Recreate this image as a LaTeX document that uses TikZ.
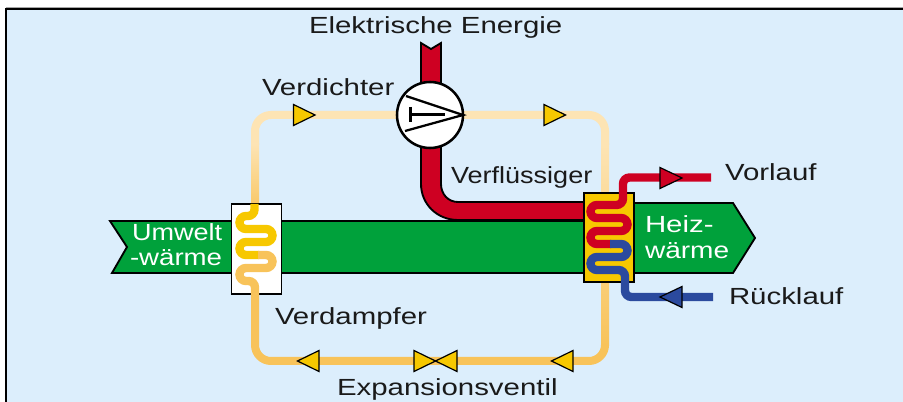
\documentclass[tikz,border=0pt]{standalone}
\usepackage{fontspec}
\newfontfamily\lab[FakeStretch=1.26]{Liberation Sans}
\definecolor{bgblue}{HTML}{DCEEFC}
\definecolor{pipelight}{HTML}{FDE4B4}
\definecolor{pipeor}{HTML}{F8C35A}
\definecolor{yel}{HTML}{F7C800}
\definecolor{rd}{HTML}{CE0022}
\definecolor{bl}{HTML}{2B4A9E}
\definecolor{grn}{HTML}{00A13B}
\definecolor{ink}{HTML}{1A1A1A}
\tikzset{
  pipe/.style={line width=6pt},
  thincoil/.style={line width=6.3pt,rounded corners=4.875pt},
  outl/.style={draw=black,line width=1.4pt,line join=miter},
  txt/.style={font=\lab\fontsize{17.5}{20}\selectfont,text=ink,anchor=base west,inner sep=0pt,outer sep=0pt},
  wtxt/.style={txt,text=white},
  exch/.style={outl,minimum width=37.5pt,inner sep=0pt},
}
% x y direction(1 right,-1 left) colour halfheight length
\newcommand{\flowtri}[6]{\begin{scope}[shift={(#1,#2)},xscale=#3]
  \draw[fill=#4,draw=black,line width=0.9pt,line join=miter] (0,-#5)--(#6,0)--(0,#5)--cycle;
\end{scope}}
\begin{document}
\begin{tikzpicture}[x=0.75pt,y=-0.75pt]
\useasboundingbox (0,0) rectangle (903,402);
\fill[white] (0,0) rectangle (903,402);
\fill[black!35] (6,7.5) rectangle (903,9);
\fill[bgblue] (6,9) rectangle (903,402);
\draw[black,line width=1.5pt] (6,402)--(6,9.5)--(903,9.5);
% refrigerant loop
\draw[pipe,pipelight,rounded corners=12pt] (255,145)--(255,115)--(605,115)--(605,145);
\shade[top color=pipelight,bottom color=pipeor!92!white] (251,144) rectangle (259,206);
\shade[top color=pipelight,bottom color=pipeor] (601,144) rectangle (609,346);
\draw[pipe,pipeor,rounded corners=12pt] (255,285)--(255,361)--(605,361)--(605,345);
% green band
\draw[outl,fill=grn] (110,221)--(584,221)--(584,203)--(733,203)--(755,238)--(733,273)--(112,273)--(127,247)--cycle;
% electric energy
\draw[outl,fill=rd,rounded corners=0pt] (421,43)--(431,49)--(441,43)--(441,184)
  .. controls (441,194) and (448,202) .. (458,202)--(584,202)--(584,220)--(458,220)
  .. controls (437,220) and (421,204) .. (421,184)--cycle;
% evaporator
\node[exch,fill=white,minimum height=67.5pt] (evap) at (256.5,249) {};
\draw[thincoil,yel,line cap=butt] (254.5,204)--(254.5,216)--(239.5,216)--(239.5,229)--(272.5,229)--(272.5,242)--(239.5,242)--(239.5,255)--(259,255);
\draw[thincoil,pipeor] (258,255)--(272.5,255)--(272.5,268)--(239.5,268)--(239.5,281)--(255,281)--(255,295);
% condenser
\node[exch,fill=yel,minimum height=66.75pt] (cond) at (609,237.5) {};
\draw[thincoil,rd] (711,177.5)--(623,177.5)--(623,205)--(590.5,205)--(590.5,218)--(627.5,218)--(627.5,231)--(590.5,231)--(590.5,244)--(611,244);
\draw[thincoil,bl] (610,244)--(627.5,244)--(627.5,257)--(590.5,257)--(590.5,270)--(625,270)--(625,297)--(713,297);
% compressor
\node[circle,draw=black,line width=1.9pt,fill=white,minimum size=49.5pt,inner sep=0pt] (comp) at (430,115) {};
\coordinate (tip) at (463,115);
\draw[black,line width=1.7pt] (406,96)--(tip)--(405,131);
\draw[black,line width=1.9pt] (410.5,107)--(410.5,122) (410.5,114.5)--(445,114.5);
% flow markers
\flowtri{293.5}{115}{1}{yel}{10.5}{21.5}
\flowtri{544}{115}{1}{yel}{10.5}{21.5}
\flowtri{319}{361}{-1}{yel}{10.5}{21.5}
\flowtri{414}{361}{1}{yel}{10.5}{21.5}
\flowtri{457}{361}{-1}{yel}{10.5}{21.5}
\flowtri{573}{361}{-1}{yel}{10.5}{21.5}
\flowtri{660}{178}{1}{rd}{10.5}{22}
\flowtri{682}{297}{-1}{bl}{10.5}{22}
% labels
\node[txt] (t1) at (309,34) {Elektrische Energie};
\node[txt] (t2) at (262,96) {Verdichter};
\node[txt] (t3) at (451,184) {\scalebox{.92}[1]{Verflüssiger}};
\node[txt] (t4) at (725,181) {Vorlauf};
\node[txt] (t5) at (729,305) {Rücklauf};
\node[txt] (t6) at (275,325) {Verdampfer};
\node[txt] (t7) at (337,396) {Expansionsventil};
\node[wtxt] (t8) at (132,241) {\scalebox{.92}[1]{Umwelt}};
\node[wtxt] (t9) at (130,266) {\scalebox{.94}[1]{-wärme}};
\node[wtxt] (t10) at (645,233) {Heiz-};
\node[wtxt] (t11) at (645,259) {\scalebox{.955}[1]{wärme}};
\end{tikzpicture}
\end{document}
